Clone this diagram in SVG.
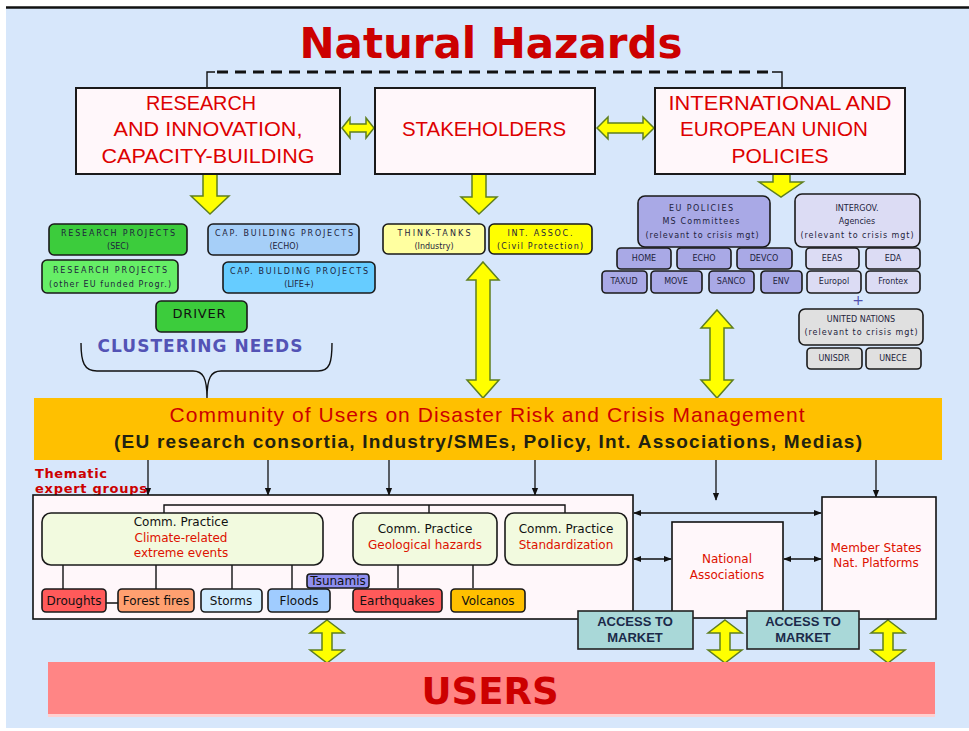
<svg xmlns="http://www.w3.org/2000/svg" width="969" height="731" viewBox="0 0 969 731">
<defs>
<style>
.bg{fill:#d7e7fb}
.top{fill:#fff7fa;stroke:#1a1a1a;stroke-width:2}
.sm{stroke:#1a1a1a;stroke-width:1.6}
.tt{font-family:"Liberation Sans",Arial,sans-serif;font-size:21px;fill:#dd0000;text-anchor:middle}
.tiny{font-family:"DejaVu Sans",Verdana,sans-serif;font-size:8px;fill:#1e1e3c;text-anchor:middle}
.small{font-family:"DejaVu Sans",Verdana,sans-serif;font-size:12px;fill:#111;text-anchor:middle}
.red{fill:#dd1100}
.yel{fill:#ffff00;stroke:#5f7f1f;stroke-width:1.5;stroke-linejoin:miter}
.ln{fill:none;stroke:#111;stroke-width:1.4}
.ar{fill:none;stroke:#111;stroke-width:1.3}
</style>
<marker id="ah" viewBox="0 0 10 10" refX="9" refY="5" markerUnits="userSpaceOnUse" markerWidth="8" markerHeight="8" orient="auto-start-reverse"><path d="M0,1 L10,5 L0,9 Z" fill="#111"/></marker>
</defs>

<rect x="0" y="0" width="969" height="731" fill="#ffffff"/>
<rect class="bg" x="6" y="8" width="963" height="720"/>
<line x1="6" y1="7.5" x2="969" y2="7.5" stroke="#111" stroke-width="2.5"/>

<g id="title">
<text x="491" y="58" font-family="'DejaVu Sans',Verdana,sans-serif" font-size="42" font-weight="bold" fill="#cc0000" text-anchor="middle" textLength="383">Natural Hazards</text>
</g>

<g id="connectors">
<path d="M207,88 V72 H215" class="ln" stroke-width="3"/>
<line x1="217" y1="72" x2="772" y2="72" stroke="#111" stroke-width="3" stroke-dasharray="11,7"/>
<path d="M772,72 H782 V88" class="ln" stroke-width="3"/>
<path class="yel" d="M342,128 L350,118 L350,124 L366,124 L366,118 L374,128 L366,138 L366,132 L350,132 L350,138 Z"/>
<path class="yel" d="M597,128 L608,117 L608,123 L643,123 L643,117 L654,128 L643,139 L643,133 L608,133 L608,139 Z"/>
<path class="yel" d="M203,174 H217 V196 H229 L210,214 L191,196 H203 Z"/>
<path class="yel" d="M472,174 H486 V197 H497 L479,214 L461,197 H472 Z"/>
<path class="yel" d="M773,174 H790 V182 H803 L781,197 L759,182 H773 Z"/>
<path class="yel" d="M483,262 L499,280 L490,280 L490,380 L499,380 L483,398 L467,380 L476,380 L476,280 L467,280 Z"/>
<path class="yel" d="M717,310 L733,328 L724,328 L724,380 L733,380 L717,398 L701,380 L710,380 L710,328 L701,328 Z"/>
<path class="yel" d="M327,620 L344,633 L332,633 L332,650 L344,650 L327,663 L310,650 L322,650 L322,633 L310,633 Z"/>
<path class="yel" d="M725,620 L742,633 L730,633 L730,650 L742,650 L725,663 L708,650 L720,650 L720,633 L708,633 Z"/>
<path class="yel" d="M888,620 L905,633 L893,633 L893,650 L905,650 L888,663 L871,650 L883,650 L883,633 L871,633 Z"/>
<path class="ln" d="M81,343 C81,362 84,371 97,371 L193,371 C203,371 207,378 207,398 C207,378 211,371 221,371 L318,371 C330,371 332,362 332,343"/>
<line class="ar" x1="148" y1="460" x2="148" y2="495" marker-end="url(#ah)"/>
<line class="ar" x1="268" y1="460" x2="268" y2="495" marker-end="url(#ah)"/>
<line class="ar" x1="389" y1="460" x2="389" y2="495" marker-end="url(#ah)"/>
<line class="ar" x1="535" y1="460" x2="535" y2="495" marker-end="url(#ah)"/>
<line class="ar" x1="716" y1="460" x2="716" y2="500" marker-end="url(#ah)"/>
<line class="ar" x1="876" y1="460" x2="876" y2="497" marker-end="url(#ah)"/>
<line class="ar" x1="634" y1="513" x2="821" y2="513" marker-start="url(#ah)" marker-end="url(#ah)"/>
<line class="ar" x1="634" y1="559" x2="671" y2="559" marker-start="url(#ah)" marker-end="url(#ah)"/>
<line class="ar" x1="784" y1="559" x2="821" y2="559" marker-start="url(#ah)" marker-end="url(#ah)"/>
</g>

<g id="research">
<rect class="top" x="76" y="88" width="264" height="86"/>
<text class="tt" x="201" y="110" textLength="110" lengthAdjust="spacingAndGlyphs">RESEARCH</text>
<text class="tt" x="208" y="136" textLength="189" lengthAdjust="spacingAndGlyphs">AND INNOVATION,</text>
<text class="tt" x="208" y="163" textLength="213" lengthAdjust="spacingAndGlyphs">CAPACITY-BUILDING</text>
</g>
<g id="stakeholders">
<rect class="top" x="375" y="88" width="220" height="86"/>
<text class="tt" x="484" y="136" textLength="164" lengthAdjust="spacingAndGlyphs">STAKEHOLDERS</text>
</g>
<g id="policies">
<rect class="top" x="655" y="88" width="250" height="86"/>
<text class="tt" x="780" y="110" textLength="223" lengthAdjust="spacingAndGlyphs">INTERNATIONAL  AND</text>
<text class="tt" x="774" y="136" textLength="188" lengthAdjust="spacingAndGlyphs">EUROPEAN  UNION</text>
<text class="tt" x="780" y="163" textLength="97" lengthAdjust="spacingAndGlyphs">POLICIES</text>
</g>

<g id="rp-sec">
<rect class="sm" x="49" y="224" width="138" height="31" rx="5" fill="#3ccc3c"/>
<text class="tiny" x="118" y="236" textLength="114">RESEARCH PROJECTS</text>
<text class="tiny" x="118" y="249">(SEC)</text>
</g>
<g id="cb-echo">
<rect class="sm" x="208" y="224" width="151" height="31" rx="5" fill="#a6cff8"/>
<text class="tiny" x="284" y="236" textLength="138">CAP. BUILDING PROJECTS</text>
<text class="tiny" x="284" y="249">(ECHO)</text>
</g>
<g id="rp-other">
<rect class="sm" x="42" y="260" width="136" height="33" rx="5" fill="#66ee66"/>
<text class="tiny" x="110" y="273" textLength="114">RESEARCH PROJECTS</text>
<text class="tiny" x="110" y="287" textLength="122">(other EU funded Progr.)</text>
</g>
<g id="cb-life">
<rect class="sm" x="223" y="262" width="152" height="31" rx="5" fill="#66ccff"/>
<text class="tiny" x="299" y="274" textLength="138">CAP. BUILDING PROJECTS</text>
<text class="tiny" x="299" y="287">(LIFE+)</text>
</g>
<g id="driver">
<rect class="sm" x="156" y="301" width="91" height="31" rx="5" fill="#3ccc3c"/>
<text x="199" y="318" font-family="'DejaVu Sans',Verdana,sans-serif" font-size="13" fill="#111" text-anchor="middle" textLength="53">DRIVER</text>
</g>
<g id="clustering">
<text x="200" y="352" font-family="'DejaVu Sans',Verdana,sans-serif" font-size="17" font-weight="bold" fill="#5353b5" text-anchor="middle" textLength="205">CLUSTERING NEEDS</text>
</g>

<g id="think-tanks">
<rect class="sm" x="383" y="224" width="102" height="30" rx="5" fill="#ffffa0"/>
<text class="tiny" x="434" y="236" textLength="73">THINK-TANKS</text>
<text class="tiny" x="434" y="249">(Industry)</text>
</g>
<g id="int-assoc">
<rect class="sm" x="489" y="224" width="103" height="30" rx="5" fill="#ffff00"/>
<text class="tiny" x="540" y="236" textLength="65">INT. ASSOC.</text>
<text class="tiny" x="540" y="249" textLength="86">(Civil Protection)</text>
</g>

<g id="eu-policies">
<rect class="sm" x="638" y="196" width="132" height="51" rx="7" fill="#a9a9e6"/>
<text class="tiny" x="701" y="211" textLength="64">EU POLICIES</text>
<text class="tiny" x="701" y="224" textLength="77">MS Committees</text>
<text class="tiny" x="702" y="238" textLength="113">(relevant to crisis mgt)</text>
</g>
<g id="home"><rect class="sm" x="617" y="248" width="54" height="21" rx="4" fill="#a9a9e6"/><text class="tiny" x="644" y="261">HOME</text></g>
<g id="echo"><rect class="sm" x="677" y="248" width="54" height="21" rx="4" fill="#a9a9e6"/><text class="tiny" x="704" y="261">ECHO</text></g>
<g id="devco"><rect class="sm" x="737" y="248" width="55" height="21" rx="4" fill="#a9a9e6"/><text class="tiny" x="764" y="261">DEVCO</text></g>
<g id="taxud"><rect class="sm" x="602" y="271" width="45" height="22" rx="4" fill="#a9a9e6"/><text class="tiny" x="624" y="284">TAXUD</text></g>
<g id="move"><rect class="sm" x="651" y="271" width="51" height="22" rx="4" fill="#a9a9e6"/><text class="tiny" x="676" y="284">MOVE</text></g>
<g id="sanco"><rect class="sm" x="709" y="271" width="45" height="22" rx="4" fill="#a9a9e6"/><text class="tiny" x="731" y="284">SANCO</text></g>
<g id="env"><rect class="sm" x="761" y="271" width="41" height="22" rx="4" fill="#a9a9e6"/><text class="tiny" x="781" y="284">ENV</text></g>

<g id="intergov">
<rect class="sm" x="795" y="194" width="125" height="53" rx="7" fill="#dcdcf4"/>
<text class="tiny" x="857" y="211">INTERGOV.</text>
<text class="tiny" x="857" y="224">Agencies</text>
<text class="tiny" x="857" y="238" textLength="113">(relevant to crisis mgt)</text>
</g>
<g id="eeas"><rect class="sm" x="806" y="248" width="53" height="21" rx="4" fill="#dcdcf4"/><text class="tiny" x="832" y="261">EEAS</text></g>
<g id="eda"><rect class="sm" x="866" y="248" width="54" height="21" rx="4" fill="#dcdcf4"/><text class="tiny" x="893" y="261">EDA</text></g>
<g id="europol"><rect class="sm" x="807" y="271" width="54" height="22" rx="4" fill="#dcdcf4"/><text class="tiny" x="834" y="284">Europol</text></g>
<g id="frontex"><rect class="sm" x="866" y="271" width="54" height="22" rx="4" fill="#dcdcf4"/><text class="tiny" x="893" y="284">Frontex</text></g>
<g id="plus"><text x="858" y="305" font-family="'DejaVu Sans',Verdana,sans-serif" font-size="14" fill="#5050b0" text-anchor="middle">+</text></g>
<g id="un">
<rect class="sm" x="799" y="309" width="124" height="36" rx="6" fill="#e0e0e0"/>
<text class="tiny" x="861" y="322">UNITED NATIONS</text>
<text class="tiny" x="861" y="335" textLength="113">(relevant to crisis mgt)</text>
</g>
<g id="unisdr"><rect class="sm" x="807" y="348" width="55" height="21" rx="4" fill="#e0e0e0"/><text class="tiny" x="834" y="361">UNISDR</text></g>
<g id="unece"><rect class="sm" x="866" y="348" width="55" height="21" rx="4" fill="#e0e0e0"/><text class="tiny" x="893" y="361">UNECE</text></g>

<g id="community">
<rect x="34" y="398" width="908" height="62" fill="#ffc000"/>
<text x="487" y="422" font-family="'Liberation Sans',Arial,sans-serif" font-size="21" fill="#cc0000" text-anchor="middle" textLength="635">Community of Users on Disaster Risk and Crisis Management</text>
<text x="488" y="448" font-family="'Liberation Sans',Arial,sans-serif" font-size="19" font-weight="bold" fill="#222211" text-anchor="middle" textLength="748">(EU research consortia, Industry/SMEs, Policy, Int. Associations, Medias)</text>
</g>

<g id="thematic-label">
<text x="35" y="478" font-family="'DejaVu Sans',Verdana,sans-serif" font-size="13" font-weight="bold" fill="#cc0000" textLength="72">Thematic</text>
<text x="35" y="493" font-family="'DejaVu Sans',Verdana,sans-serif" font-size="13" font-weight="bold" fill="#cc0000" textLength="112">expert groups</text>
</g>

<g id="thematic-groups">
<rect x="33" y="495" width="600" height="124" fill="#fff7fa" stroke="#111" stroke-width="1.6"/>
<path class="ln" d="M164,513 V505 H565 V513 M429,505 V513"/>
<path class="ln" d="M63,565 V589 M156,565 V589 M232,565 V589 M292,565 V589 M106,603 H118 M398,565 V588 M473,565 V588"/>
</g>
<g id="cp-climate">
<rect class="sm" x="42" y="513" width="281" height="52" rx="9" fill="#f2fadf"/>
<text class="small" x="181" y="526" fill="#1a1a3a">Comm. Practice</text>
<text class="small red" x="181" y="542">Climate-related</text>
<text class="small red" x="181" y="557">extreme events</text>
</g>
<g id="cp-geo">
<rect class="sm" x="353" y="513" width="144" height="52" rx="9" fill="#f2fadf"/>
<text class="small" x="425" y="533" fill="#1a1a3a">Comm. Practice</text>
<text class="small red" x="425" y="549">Geological hazards</text>
</g>
<g id="cp-std">
<rect class="sm" x="505" y="513" width="122" height="52" rx="9" fill="#f2fadf"/>
<text class="small" x="566" y="533" fill="#1a1a3a">Comm. Practice</text>
<text class="small red" x="566" y="549">Standardization</text>
</g>
<g id="droughts"><rect class="sm" x="42" y="589" width="64" height="23" rx="4" fill="#ff5a5a"/><text class="small" x="74" y="605">Droughts</text></g>
<g id="forest-fires"><rect class="sm" x="118" y="589" width="76" height="23" rx="4" fill="#ffa070"/><text class="small" x="156" y="605">Forest fires</text></g>
<g id="storms"><rect class="sm" x="201" y="589" width="61" height="23" rx="4" fill="#d0ecff"/><text class="small" x="231" y="605">Storms</text></g>
<g id="floods"><rect class="sm" x="268" y="589" width="62" height="23" rx="4" fill="#a0ccff"/><text class="small" x="299" y="605">Floods</text></g>
<g id="tsunamis"><rect class="sm" x="307" y="574" width="62" height="14" rx="3" fill="#8f8ff0"/><text class="small" x="338" y="585" font-size="11">Tsunamis</text></g>
<g id="earthquakes"><rect class="sm" x="353" y="589" width="89" height="23" rx="4" fill="#ff5a5a"/><text class="small" x="397" y="605">Earthquakes</text></g>
<g id="volcanos"><rect class="sm" x="451" y="589" width="74" height="23" rx="4" fill="#ffc000"/><text class="small" x="488" y="605">Volcanos</text></g>

<g id="national">
<rect x="672" y="522" width="111" height="96" fill="#fff7fa" stroke="#111" stroke-width="1.6"/>
<text class="small red" x="727" y="563" font-size="13">National</text>
<text class="small red" x="727" y="579" font-size="13">Associations</text>
</g>
<g id="member-states">
<rect x="822" y="497" width="114" height="122" fill="#fff7fa" stroke="#111" stroke-width="1.6"/>
<text class="small red" x="876" y="552" font-size="13">Member States</text>
<text class="small red" x="876" y="567" font-size="13">Nat. Platforms</text>
</g>
<g id="access1">
<rect x="578" y="611" width="115" height="38" fill="#a9d8d8" stroke="#222" stroke-width="1.6"/>
<text x="635" y="626" font-family="'Liberation Sans',Arial,sans-serif" font-size="13" font-weight="bold" fill="#1b2a4a" text-anchor="middle">ACCESS TO</text>
<text x="635" y="642" font-family="'Liberation Sans',Arial,sans-serif" font-size="13" font-weight="bold" fill="#1b2a4a" text-anchor="middle">MARKET</text>
</g>
<g id="access2">
<rect x="747" y="611" width="112" height="38" fill="#a9d8d8" stroke="#222" stroke-width="1.6"/>
<text x="803" y="626" font-family="'Liberation Sans',Arial,sans-serif" font-size="13" font-weight="bold" fill="#1b2a4a" text-anchor="middle">ACCESS TO</text>
<text x="803" y="642" font-family="'Liberation Sans',Arial,sans-serif" font-size="13" font-weight="bold" fill="#1b2a4a" text-anchor="middle">MARKET</text>
</g>

<g id="users">
<rect x="48" y="662" width="887" height="54" fill="#ff8585"/>
<rect x="48" y="714" width="887" height="3" fill="#ffd0d0"/>
<text x="490" y="704" font-family="'DejaVu Sans',Verdana,sans-serif" font-size="37" font-weight="bold" fill="#cc0000" text-anchor="middle">USERS</text>
</g>
</svg>
